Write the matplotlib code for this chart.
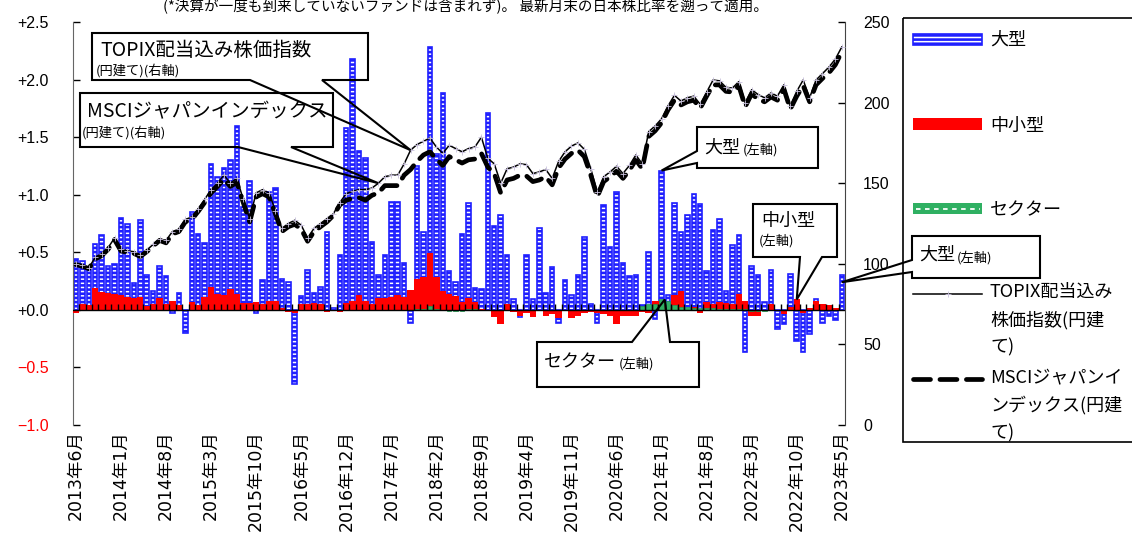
import matplotlib
matplotlib.use("Agg")
import numpy as np
import matplotlib.pyplot as plt
from matplotlib.patches import Rectangle, Polygon

plt.rcParams['font.family'] = ['Noto Sans CJK JP', 'DejaVu Sans']
plt.rcParams['hatch.linewidth'] = 1.9

# monthly flows, 2013/6 .. 2023/5 (left axis)
large_cap = [
    0.44, 0.42, 0.35, 0.57, 0.65, 0.38, 0.40, 0.80, 0.75, 0.23,
    0.78, 0.30, 0.16, 0.38, 0.29, -0.03, 0.15, -0.20, 0.85, 0.66,
    0.58, 1.27, 1.15, 1.23, 1.30, 1.60, 0.89, 1.12, -0.03, 0.26,
    1.02, 1.06, 0.27, 0.24, -0.64, 0.12, 0.35, 0.15, 0.20, 0.68,
    0.02, 0.48, 1.58, 2.18, 1.38, 1.32, 0.59, 0.30, 0.48, 0.94,
    0.94, 0.41, -0.11, 1.25, 0.68, 2.28, 1.35, 1.88, 0.34, 0.24,
    0.66, 0.93, 0.19, 0.18, 1.71, 0.73, 0.82, 0.48, 0.09, -0.06,
    0.48, 0.09, 0.71, 0.15, 0.37, -0.11, 0.26, 0.13, 0.30, 0.63,
    0.05, -0.11, 0.91, 0.55, 1.02, 0.41, 0.29, 0.30, 0.04, 0.50,
    -0.08, 1.21, 0.13, 0.93, 0.68, 0.82, 1.01, 0.92, 0.34, 0.69,
    0.79, 0.16, 0.56, 0.65, -0.37, 0.38, 0.30, 0.07, 0.35, -0.17,
    -0.12, 0.31, -0.27, -0.37, -0.21, 0.09, -0.11, -0.05, -0.09, 0.30,
]
small_mid = [
    -0.03, 0.05, 0.04, 0.19, 0.155, 0.145, 0.135, 0.125, 0.11, 0.10,
    0.11, 0.03, 0.055, 0.10, 0.05, 0.08, 0.045, 0.0, 0.07, 0.04,
    0.11, 0.20, 0.14, 0.125, 0.18, 0.14, 0.06, 0.06, 0.07, 0.05,
    0.08, 0.08, 0.015, -0.02, -0.03, 0.05, 0.055, 0.06, 0.05, -0.02,
    0.0, -0.02, 0.06, 0.08, 0.125, 0.08, 0.055, 0.105, 0.10, 0.11,
    0.125, 0.11, 0.175, 0.27, 0.285, 0.49, 0.285, 0.165, 0.14, 0.12,
    0.07, 0.10, 0.07, 0.01, -0.01, -0.06, -0.125, 0.05, -0.02, -0.05,
    -0.03, -0.06, 0.0, -0.055, -0.04, -0.07, 0.0, -0.07, -0.05, -0.03,
    -0.02, -0.03, -0.035, -0.05, -0.12, -0.05, -0.055, -0.055, -0.02, -0.03,
    0.08, 0.08, 0.02, 0.125, 0.165, -0.01, 0.025, -0.03, 0.07, 0.055,
    0.07, 0.06, 0.055, 0.14, 0.075, -0.055, -0.055, -0.005, 0.055, -0.01,
    -0.035, 0.025, 0.09, -0.03, 0.02, 0.075, 0.05, 0.04, 0.02, 0.0,
]
sector = [
    0.0, 0.0, 0.0, 0.0, 0.0, 0.0, 0.0, 0.0, 0.0, 0.0,
    0.0, 0.0, 0.0, 0.0, 0.0, 0.0, 0.0, 0.0, 0.0, 0.0,
    0.0, 0.0, 0.0, 0.0, 0.0, 0.0, 0.0, 0.0, 0.0, 0.0,
    0.0, 0.0, 0.0, 0.0, 0.0, 0.0, 0.0, -0.005, -0.005, -0.005,
    -0.005, 0.0, 0.0, 0.0, 0.0, 0.0, 0.0, 0.0, 0.0, 0.0,
    0.0, 0.0, 0.0, 0.005, 0.01, 0.03, 0.005, 0.0, -0.01, -0.01,
    -0.01, 0.005, 0.005, 0.0, 0.0, 0.0, 0.0, 0.0, 0.0, 0.0,
    0.0, 0.0, 0.0, 0.0, 0.0, 0.0, 0.0, 0.0, 0.0, 0.0,
    0.0, 0.0, 0.0, 0.0, 0.0, 0.0, 0.0, 0.0, 0.03, 0.05,
    0.05, 0.09, 0.08, 0.04, 0.025, 0.025, 0.02, 0.02, 0.02, 0.015,
    0.01, 0.01, 0.01, 0.01, 0.01, -0.01, -0.01, -0.01, 0.0, 0.0,
    0.0, 0.0, 0.0, 0.0, 0.0, 0.0, 0.0, 0.0, 0.0, 0.0,
]
# index levels (right axis)
topix = [
    100, 99, 97.5, 104, 106, 110, 116, 109, 108, 107.5,
    105.5, 108.5, 112, 115.5, 114.5, 120, 121.5, 127.5, 129, 134,
    140, 146, 150, 155, 150, 153, 140, 128, 144, 146,
    144, 133, 122, 125, 127, 124, 116, 122, 125, 128,
    131, 138, 143.5, 145, 146, 146, 147, 150, 154, 155,
    155, 162, 170.5, 174, 176, 178, 172.5, 168.5, 173.5, 171.5,
    169.5, 171.5, 172.5, 178.5, 165.5, 162, 150, 159, 160, 162,
    161.5, 156, 157, 158.5, 153, 163.5, 169.5, 173, 175, 171,
    159, 144.5, 154, 157, 160.5, 156, 161, 167.5, 162, 182,
    185.5, 190, 198, 204.5, 201, 203, 204, 199, 206.5, 214,
    213.5, 209.5, 209, 213, 200, 208, 205, 203, 206, 204,
    211, 198, 207, 214, 203, 214, 218, 222, 227, 234.5,
]
msci = [
    99.5, 98.5, 97, 103, 105, 109, 115, 108, 107, 106.5,
    104.5, 107.5, 111, 114.5, 113, 118.5, 120, 126, 127.5, 132.5,
    138, 144, 148, 152.5, 148, 150.5, 138, 126, 141.5, 143.5,
    141.5, 131, 120, 123, 124.5, 121.5, 114, 120, 123, 126,
    130, 136.5, 139.5, 140.5, 141, 139.5, 142.5, 144, 148.5, 148.5,
    148.5, 155, 158.5, 163.5, 167.5, 169.5, 165, 161, 166.5, 164.5,
    162.5, 164.5, 165, 168.5, 160, 156, 144, 152, 153, 155,
    154.5, 151, 152, 154, 149, 159.5, 165, 168.5, 170.5, 166.5,
    155, 141.5, 151, 154, 157.5, 153, 158, 164.5, 159, 179,
    182.5, 187.5, 195.5, 201.5, 198.5, 200.5, 201.5, 196.5, 204, 211,
    211, 207, 206.5, 210.5, 197.5, 205.5, 202, 200.5, 203.5, 201.5,
    208.5, 196, 204, 210.5, 200.5, 211, 215, 218.5, 223.5, 231.5,
]
tick_idx = [0, 7, 14, 21, 28, 35, 42, 49, 56, 63, 70, 77, 84, 91, 98, 105, 112, 119]
tick_labels = ["2013年6月", "2014年1月", "2014年8月", "2015年3月", "2015年10月",
               "2016年5月", "2016年12月", "2017年7月", "2018年2月", "2018年9月",
               "2019年4月", "2019年11月", "2020年6月", "2021年1月", "2021年8月",
               "2022年3月", "2022年10月", "2023年5月"]
left_ticks = [-1.0, -0.5, 0.0, 0.5, 1.0, 1.5, 2.0, 2.5]
left_labels = ["−1.0", "−0.5", "+0.0", "+0.5", "+1.0", "+1.5", "+2.0", "+2.5"]
right_ticks = [0, 50, 100, 150, 200, 250]

BLUE = '#1f1fff'
RED = '#ff0000'
GREEN = '#2fb062'
W, H = 1132, 540

fig = plt.figure(figsize=(W / 100, H / 100), dpi=100)
ax = fig.add_axes([72.7 / W, 115 / H, 772.3 / W, 403 / H])
x = np.arange(len(large_cap))

ax.bar(x, large_cap, width=0.7, facecolor='white', edgecolor=BLUE,
       hatch='----', linewidth=1.2, zorder=2)
ax.bar(x, small_mid, width=1.0, color=RED, linewidth=0, zorder=3)
ax.bar(x, sector, width=0.7, color=GREEN, edgecolor='#1f9a50', linewidth=0.5, zorder=4)
ax.axhline(0, color='black', lw=1.0, zorder=5)
ax.plot(x[:-1] + 0.5, np.zeros(len(x) - 1), ls='none', marker=2, ms=4,
        mew=1.0, color='black', zorder=5)

ax.set_xlim(-0.5, len(x) - 0.5)
ax.set_ylim(-1.0, 2.5)
ax.set_yticks(left_ticks)
ax.set_yticklabels(left_labels, family=['Liberation Sans', 'DejaVu Sans'])
for val, lab in zip(left_ticks, ax.get_yticklabels()):
    lab.set_color(RED if val < 0 else 'black')
ax.tick_params(axis='y', direction='in', length=5, width=1, pad=17, labelsize=11.5)
ax.set_xticks(tick_idx)
ax.set_xticklabels(tick_labels, rotation=90, va='top', ha='center',
                   family=['DejaVu Sans', 'Noto Sans CJK JP'])
ax.tick_params(axis='x', length=0, pad=4, labelsize=12.5)
for s in ['top', 'bottom', 'right']:
    ax.spines[s].set_visible(False)
ax.spines['left'].set_color('#666666')

ax2 = ax.twinx()
ax2.plot(x, msci, color='black', lw=3.4, ls=(0, (3.6, 2.0)),
         dash_capstyle='round', zorder=3)
ax2.plot(x, topix, color='black', lw=1.1, marker='+', ms=4, mew=0.6,
         mec='#c8c0dc', zorder=4)
ax2.set_ylim(0, 250)
ax2.set_yticks(right_ticks)
ax2.tick_params(axis='y', direction='in', length=5, width=1, pad=13, labelsize=11.5)
for lab in ax2.get_yticklabels():
    lab.set_family(['Liberation Sans', 'DejaVu Sans'])
for s in ['top', 'bottom', 'left']:
    ax2.spines[s].set_visible(False)
ax2.spines['right'].set_color('#444444')

# overlay in pixel units for notes, callouts and legend
ov = fig.add_axes([0, 0, 1, 1], zorder=10)
ov.set_xlim(0, W)
ov.set_ylim(H, 0)
ov.axis('off')


def to_ov(pt, axes):
    disp = axes.transData.transform(pt)
    return tuple(ov.transData.inverted().transform(disp))


def callout(before, tip, axes, after):
    verts = before + [to_ov(tip, axes)] + after
    ov.add_patch(Polygon(verts, closed=True, fill=False, ec='black', lw=1.5))


ov.text(163, 6, "(*決算が一度も到来していないファンドは含まれず)。 最新月末の日本株比率を遡って適用。",
        fontsize=10.5, va='center')

# TOPIX callout
callout([(322, 80), (368, 80), (368, 33), (92, 33), (92, 80), (250, 80)],
        (52, topix[52]), ax2, [])
ov.text(100, 50, "TOPIX配当込み株価指数", fontsize=14, va='center')
ov.text(96, 71, "(円建て)(右軸)", fontsize=9.5, va='center')

# MSCI callout
callout([(291, 147), (333, 147), (333, 93), (80, 93), (80, 147), (238, 147)],
        (47, topix[47]), ax2, [])
ov.text(87, 112, "MSCIジャパンインデックス", fontsize=14, va='center')
ov.text(82, 133, "(円建て)(右軸)", fontsize=9.5, va='center')

# large-cap callout (2021/1)
callout([(697, 163), (697, 168), (818, 168), (818, 127), (697, 127), (697, 151)],
        (91, large_cap[91]), ax, [])
ov.text(704, 148, "大型", fontsize=13, va='center')
ov.text(743, 150, "(左軸)", fontsize=9.5, va='center')

# small/mid callout
callout([(800, 257), (753, 257), (753, 204), (837, 204), (837, 257), (822, 257)],
        (112, small_mid[112]), ax, [])
ov.text(761, 221, "中小型", fontsize=13, va='center')
ov.text(759, 241, "(左軸)", fontsize=9.5, va='center')

# sector callout
callout([(670, 342), (699, 342), (699, 387), (537, 387), (537, 342), (632, 342)],
        (91.5, sector[91]), ax, [])
ov.text(544, 362, "セクター", fontsize=13, va='center')
ov.text(619, 364, "(左軸)", fontsize=9.5, va='center')

# large-cap callout (latest month)
callout([(912, 272), (912, 278), (1040, 278), (1040, 236), (912, 236), (912, 260)],
        (119, 0.24), ax, [])
ov.text(919, 255, "大型", fontsize=13, va='center')
ov.text(957, 258, "(左軸)", fontsize=9.5, va='center')

# legend
ov.add_patch(Rectangle((903, 18), 260, 424, fill=False, ec='black', lw=1.2, zorder=1))
ov.add_patch(Rectangle((913, 34), 69, 11, facecolor='white', edgecolor=BLUE,
                       hatch='----', lw=1.2))
ov.add_patch(Rectangle((913, 118), 69, 12, color=RED, lw=0))
ov.add_patch(Rectangle((913, 203), 69, 11, color=GREEN, lw=0))
ov.plot([916, 980], [208.5, 208.5], color='white', lw=1.3, ls=(0, (2.5, 2.5)))
ov.plot([913, 982], [294, 294], color='black', lw=1.1)
ov.plot([947.5], [294], ls='none', marker='+', ms=5, mew=0.6, color='#c8c0dc')
ov.plot([913, 982], [379, 379], color='black', lw=3.4, ls=(0, (3.6, 2.0)),
        dash_capstyle='round')
ov.text(990, 40, "大型", fontsize=13, va='center')
ov.text(990, 126, "中小型", fontsize=13, va='center')
ov.text(990, 210, "セクター", fontsize=13, va='center')
ov.text(990, 283, "TOPIX配当込み\n株価指数(円建\nて)", fontsize=13, va='top',
        linespacing=1.65)
ov.text(990, 368, "MSCIジャパンイ\nンデックス(円建\nて)", fontsize=13, va='top',
        linespacing=1.65)

fig.savefig("out.png", dpi=100)
